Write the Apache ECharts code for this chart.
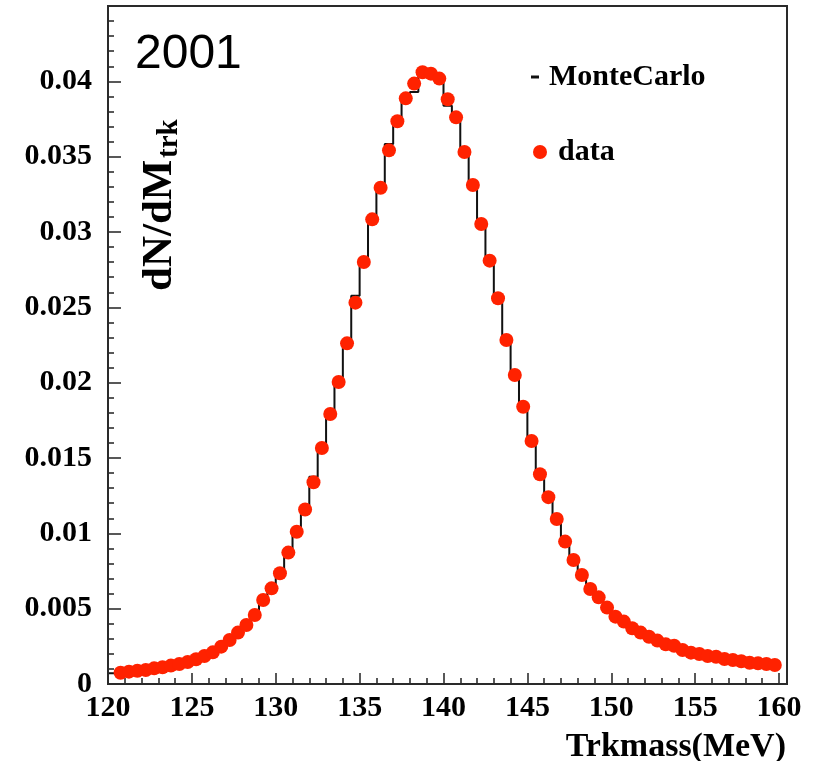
<!DOCTYPE html>
<html>
<head>
<meta charset="utf-8">
<script src="https://cdn.jsdelivr.net/npm/echarts@6/dist/echarts.min.js"></script>
<style>html,body{margin:0;padding:0;background:#fff;}#c{width:814px;height:761px;}</style>
</head>
<body>
<div id="c"></div>
<script>
// ---- data ----
const dataX = [120.75,121.25,121.75,122.25,122.75,123.25,123.75,124.25,124.75,125.25,125.75,126.25,126.75,127.25,127.75,128.25,128.75,129.25,129.75,130.25,130.75,131.25,131.75,132.25,132.75,133.25,133.75,134.25,134.75,135.25,135.75,136.25,136.75,137.25,137.75,138.25,138.75,139.25,139.75,140.25,140.75,141.25,141.75,142.25,142.75,143.25,143.75,144.25,144.75,145.25,145.75,146.25,146.75,147.25,147.75,148.25,148.75,149.25,149.75,150.25,150.75,151.25,151.75,152.25,152.75,153.25,153.75,154.25,154.75,155.25,155.75,156.25,156.75,157.25,157.75,158.25,158.75,159.25,159.75];
const dataY = [0.00075,0.00082,0.00088,0.00093,0.00104,0.00111,0.00122,0.00133,0.00146,0.00164,0.00186,0.00210,0.00248,0.00292,0.00341,0.00392,0.00458,0.00558,0.00635,0.00735,0.00872,0.01011,0.01158,0.01339,0.01566,0.01792,0.02004,0.02261,0.02531,0.02801,0.03084,0.03294,0.03542,0.03735,0.03887,0.03985,0.04060,0.04051,0.04018,0.03881,0.03761,0.03531,0.03312,0.03053,0.02810,0.02560,0.02283,0.02051,0.01840,0.01613,0.01392,0.01240,0.01095,0.00945,0.00823,0.00723,0.00631,0.00575,0.00507,0.00447,0.00414,0.00370,0.00341,0.00314,0.00288,0.00263,0.00254,0.00226,0.00208,0.00199,0.00186,0.00181,0.00166,0.00159,0.00151,0.00141,0.00137,0.00133,0.00126];
const mcEdges = [120,120.5,121,121.5,122,122.5,123,123.5,124,124.5,125,125.5,126,126.5,127,127.5,128,128.5,129,129.5,130,130.5,131,131.5,132,132.5,133,133.5,134,134.5,135,135.5,136,136.5,137,137.5,138,138.5,139,139.5,140,140.5,141,141.5,142,142.5,143,143.5,144,144.5,145,145.5,146,146.5,147,147.5,148,148.5,149,149.5,150,150.5,151,151.5,152,152.5,153,153.5,154,154.5,155,155.5,156,156.5,157,157.5,158,158.5,159,159.5,160,160.5];
const mcValues = [0.00072,0.00075,0.00082,0.00088,0.00093,0.00104,0.00111,0.00122,0.00133,0.00146,0.00164,0.00186,0.00210,0.00248,0.00292,0.00341,0.00392,0.00458,0.00558,0.00635,0.00735,0.00872,0.01011,0.01158,0.01376,0.01566,0.01792,0.02004,0.02261,0.02577,0.02801,0.03084,0.03294,0.03584,0.03735,0.03887,0.03930,0.04045,0.04055,0.03990,0.03838,0.03761,0.03531,0.03312,0.03053,0.02810,0.02560,0.02283,0.02051,0.01840,0.01613,0.01392,0.01240,0.01095,0.00945,0.00823,0.00723,0.00631,0.00575,0.00507,0.00447,0.00414,0.00370,0.00341,0.00314,0.00288,0.00263,0.00254,0.00226,0.00208,0.00199,0.00186,0.00181,0.00166,0.00159,0.00151,0.00141,0.00137,0.00133,0.00126,0.00126];
const xTicks = [120,125,130,135,140,145,150,155,160];
const yTicks = [0,0.005,0.01,0.015,0.02,0.025,0.03,0.035,0.04];
const seriesNames = ['MonteCarlo','data'];
const yearLabel = '2001';

const serif = '"Liberation Serif","Times New Roman",serif';
const chart = echarts.init(document.getElementById('c'));
const mcData = mcEdges.map((e, i) => [e, mcValues[Math.min(i, mcValues.length - 1)]]);
const ptData = dataX.map((x, i) => [x, dataY[i]]);

chart.setOption({
  animation: false,
  backgroundColor: '#fff',
  grid: [
    {left: 108, right: 35, top: 6, bottom: 77, show: false, containLabel: false, outerBoundsMode: 'none'},
    {left: 108, right: 27, top: 6, bottom: 77, show: true, borderColor: '#2a2a2a', borderWidth: 2, backgroundColor: 'transparent', z: 5, containLabel: false, outerBoundsMode: 'none'}
  ],
  xAxis: [
    {
      type: 'value', gridIndex: 0, min: xTicks[0], max: xTicks[xTicks.length - 1], interval: 5,
      axisLine: {show: false},
      axisTick: {show: true, inside: true, length: 11, lineStyle: {color: '#222', width: 1.5}},
      minorTick: {show: true, splitNumber: 5, length: 6, lineStyle: {color: '#222', width: 1.5}},
      splitLine: {show: false},
      axisLabel: {margin: 9, color: '#000', fontFamily: serif, fontWeight: 'bold', fontSize: 30,
        formatter: v => xTicks.indexOf(v) >= 0 ? String(v) : ''},
      name: 'Trkmass(MeV)', nameLocation: 'end', nameGap: 7,
      nameTextStyle: {color: '#000', fontFamily: serif, fontWeight: 'bold', fontSize: 34,
        align: 'right', verticalAlign: 'top', padding: [46, 0, 0, 0]}
    },
    {type: 'value', gridIndex: 1, show: false, min: 0, max: 1}
  ],
  yAxis: [
    {
      type: 'value', gridIndex: 0, min: 0, max: 0.045, interval: 0.005,
      axisLine: {show: false},
      axisTick: {show: true, inside: true, length: 13, lineStyle: {color: '#222', width: 1.5}},
      minorTick: {show: true, splitNumber: 5, length: 6, lineStyle: {color: '#222', width: 1.5}},
      splitLine: {show: false},
      axisLabel: {margin: 16, color: '#000', fontFamily: serif, fontWeight: 'bold', fontSize: 30,
        showMaxLabel: false,
        formatter: v => { const t = yTicks.find(k => Math.abs(k - v) < 1e-9); return t === undefined ? '' : String(t); }}
    },
    {type: 'value', gridIndex: 1, show: false, min: 0, max: 1}
  ],
  legend: [
    {
      data: [{name: seriesNames[0], icon: 'rect'}], left: 526, top: 57, orient: 'vertical',
      itemWidth: 8, itemHeight: 3, itemGap: 0,
      textStyle: {color: '#000', fontFamily: serif, fontWeight: 'bold', fontSize: 30, padding: [0, 0, 0, 5]}
    },
    {
      data: [{name: seriesNames[1], icon: 'circle'}], left: 528, top: 132, orient: 'vertical',
      itemWidth: 14, itemHeight: 14, itemGap: 0,
      textStyle: {color: '#000', fontFamily: serif, fontWeight: 'bold', fontSize: 30, padding: [0, 0, 0, 6]}
    }
  ],
  graphic: [
    {type: 'text', left: 135, top: 31, style: {text: yearLabel, font: '48px "Liberation Sans", Arial, sans-serif', fill: '#000'}},
    {type: 'group', x: 160, y: 291, rotation: Math.PI / 2, children: [
      {type: 'text', x: 0, y: 0, style: {text: 'dN/dM', font: 'bold 43px ' + serif, fill: '#000', align: 'left', verticalAlign: 'middle'}},
      {type: 'text', x: 133, y: 10, style: {text: 'trk', font: 'bold 29px ' + serif, fill: '#000', align: 'left', verticalAlign: 'middle'}}
    ]}
  ],
  series: [
    {
      name: seriesNames[0], type: 'line', xAxisIndex: 0, yAxisIndex: 0, step: 'end', data: mcData,
      showSymbol: false, symbol: 'none', clip: false, color: '#111',
      lineStyle: {color: '#111', width: 2}, z: 2
    },
    {
      name: seriesNames[1], type: 'scatter', xAxisIndex: 0, yAxisIndex: 0, data: ptData,
      symbol: 'circle', symbolSize: 14, itemStyle: {color: '#ff2200', opacity: 1}, z: 3
    }
  ]
});
</script>
</body>
</html>
